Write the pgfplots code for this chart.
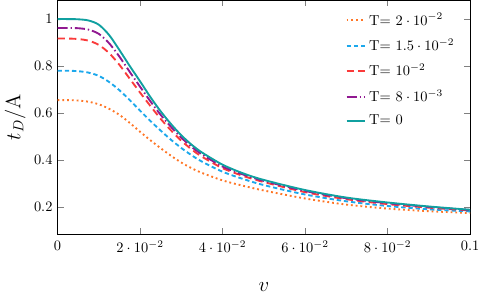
\documentclass[border=0pt]{standalone}
\usepackage{pgfplots}
\pgfplotsset{compat=1.18}

\definecolor{corange}{RGB}{255,118,38}
\definecolor{cblue}{RGB}{28,168,236}
\definecolor{cred}{RGB}{250,58,58}
\definecolor{cpurple}{RGB}{145,25,145}
\definecolor{cteal}{RGB}{16,160,160}

\begin{document}
\begin{tikzpicture}
\begin{axis}[
  scale only axis,
  width=286pt, height=162pt,
  xmin=0, xmax=0.1,
  ymin=0.085, ymax=1.08,
  xtick={0,0.02,0.04,0.06,0.08,0.1},
  ytick={0.2,0.4,0.6,0.8,1},
  xticklabel style={yshift=-1.5pt},
  xlabel={\Large $v$},
  xlabel style={yshift=-14pt},
  ylabel={\Large $t_D/\mathrm{A}$},
  ylabel style={yshift=-1pt},
  legend pos=north east,
  legend cell align=left,
  legend style={draw=none, fill=none, row sep=4pt, at={(0.98,0.97)}},
  legend image code/.code={%
    \draw[#1, line width=1.25pt] (0pt,0pt) -- (13pt,0pt);},
]
\addplot[corange, line width=1.3pt, dotted, smooth] coordinates {
 (0,0.655) (0.0025,0.655) (0.005,0.653) (0.0075,0.648) (0.01,0.637)
 (0.0125,0.618) (0.015,0.592) (0.0175,0.558) (0.02,0.52) (0.0225,0.484)
 (0.025,0.45) (0.0275,0.418) (0.03,0.389) (0.0325,0.365) (0.035,0.345)
 (0.04,0.313) (0.045,0.29) (0.05,0.27) (0.06,0.236) (0.07,0.21)
 (0.08,0.193) (0.09,0.182) (0.1,0.174)};
\addlegendentry{T= $2\cdot10^{-2}$}
\addplot[cblue, line width=1.3pt, dash pattern=on 3pt off 2pt, smooth] coordinates {
 (0,0.78) (0.0025,0.78) (0.005,0.778) (0.0075,0.772) (0.01,0.758)
 (0.0125,0.732) (0.015,0.697) (0.0175,0.655) (0.02,0.61) (0.0225,0.566)
 (0.025,0.525) (0.0275,0.486) (0.03,0.451) (0.0325,0.42) (0.035,0.393)
 (0.04,0.35) (0.045,0.319) (0.05,0.293) (0.06,0.253) (0.07,0.224)
 (0.08,0.204) (0.09,0.19) (0.1,0.181)};
\addlegendentry{T= $1.5\cdot10^{-2}$}
\addplot[cred, line width=1.3pt, dash pattern=on 5pt off 3pt, smooth] coordinates {
 (0,0.917) (0.0025,0.917) (0.005,0.915) (0.0075,0.908) (0.01,0.89)
 (0.0125,0.855) (0.015,0.805) (0.0175,0.746) (0.02,0.687) (0.0225,0.63)
 (0.025,0.575) (0.0275,0.526) (0.03,0.482) (0.0325,0.445) (0.035,0.414)
 (0.04,0.365) (0.045,0.332) (0.05,0.306) (0.06,0.263) (0.07,0.233)
 (0.08,0.212) (0.09,0.197) (0.1,0.185)};
\addlegendentry{T= $10^{-2}$}
\addplot[cpurple, line width=1.3pt, dash pattern=on 7pt off 2pt on 1pt off 2pt, smooth] coordinates {
 (0,0.962) (0.0025,0.962) (0.005,0.961) (0.0075,0.955) (0.01,0.937)
 (0.0125,0.897) (0.015,0.84) (0.0175,0.775) (0.02,0.712) (0.0225,0.65)
 (0.025,0.592) (0.0275,0.541) (0.03,0.495) (0.0325,0.456) (0.035,0.424)
 (0.04,0.372) (0.045,0.338) (0.05,0.311) (0.06,0.268) (0.07,0.237)
 (0.08,0.216) (0.09,0.2) (0.1,0.187)};
\addlegendentry{T= $8\cdot10^{-3}$}
\addplot[cteal, line width=1.3pt, solid, smooth] coordinates {
 (0,1.0) (0.0025,1.0) (0.005,0.999) (0.0075,0.994) (0.01,0.976)
 (0.0125,0.932) (0.015,0.868) (0.0175,0.8) (0.02,0.735) (0.0225,0.668)
 (0.025,0.607) (0.0275,0.553) (0.03,0.505) (0.0325,0.465) (0.035,0.432)
 (0.04,0.38) (0.045,0.343) (0.05,0.315) (0.06,0.272) (0.07,0.24)
 (0.08,0.219) (0.09,0.202) (0.1,0.188)};
\addlegendentry{T= $0$}
\end{axis}
% a little white space on the right and below
\path ([yshift=-5pt]current bounding box.south west)
  rectangle ([xshift=2pt]current bounding box.north east);
\end{tikzpicture}
\end{document}
